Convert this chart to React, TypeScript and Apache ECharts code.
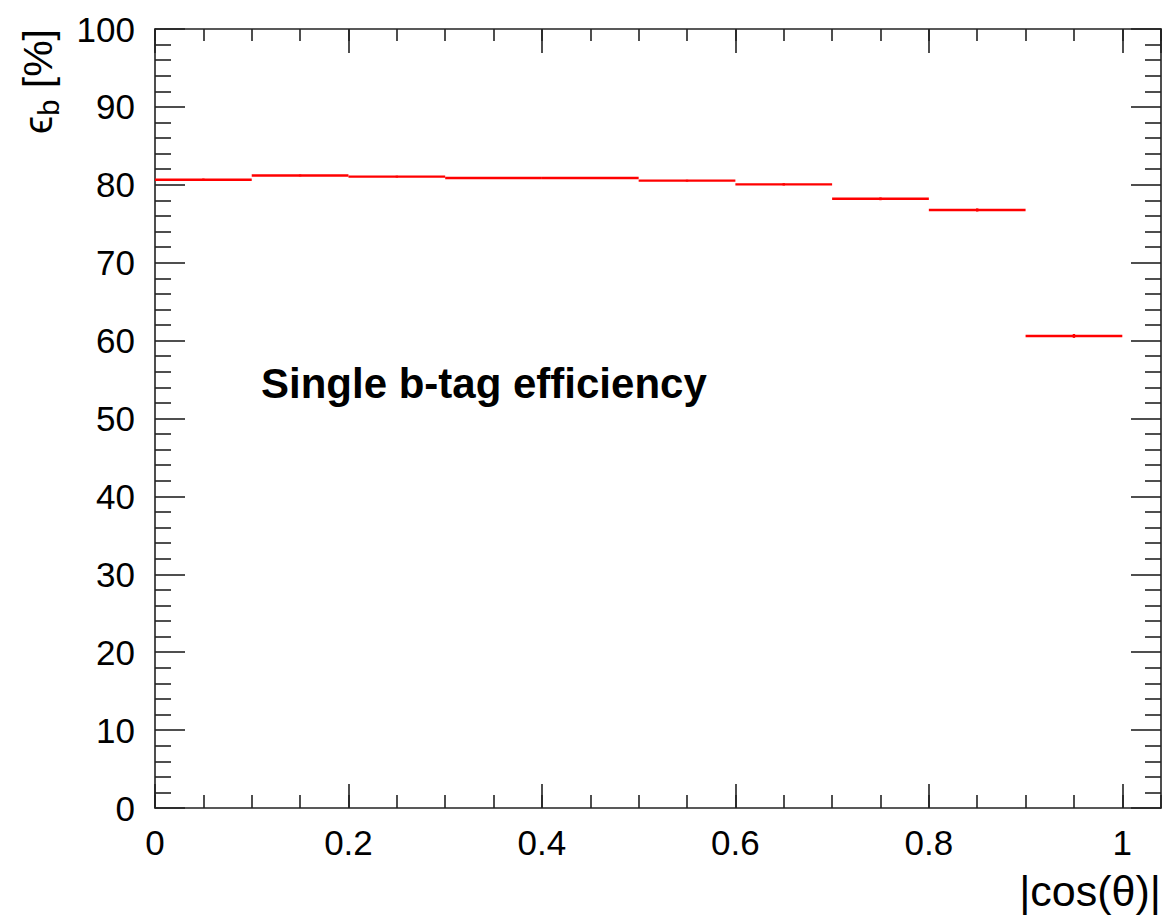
import React, { useEffect, useRef } from "react";
import * as echarts from "echarts";

// bin edges (|cos(theta)|) and efficiencies [%]
const binLow = [0.0, 0.1, 0.2, 0.3, 0.4, 0.5, 0.6, 0.7, 0.8, 0.9];
const binHigh = [0.1, 0.2, 0.3, 0.4, 0.5, 0.6, 0.7, 0.8, 0.9, 1.0];
const efficiency = [80.65, 81.2, 81.05, 80.87, 80.87, 80.53, 80.06, 78.2, 76.77, 60.6];
const errors = [0.15, 0.12, 0.12, 0.12, 0.12, 0.12, 0.15, 0.18, 0.2, 0.25];

const xTickLabels = ["0", "0.2", "0.4", "0.6", "0.8", "1"];
const yTickLabels = ["0", "10", "20", "30", "40", "50", "60", "70", "80", "90", "100"];

const FONT = "Liberation Sans, Arial, Helvetica, sans-serif";
const AXIS_COLOR = "#222";

export default function App() {
  const ref = useRef<HTMLDivElement>(null);

  useEffect(() => {
    if (!ref.current) return;
    const chart = echarts.init(ref.current, null, { renderer: "svg" });

    const data = binLow.map((lo, i) => [lo, binHigh[i], efficiency[i], errors[i]]);

    const lineStyle = { color: AXIS_COLOR, width: 1.6 };
    const xFmt = (v: number) => {
      const k = Math.round(v * 5);
      if (Math.abs(v * 5 - k) > 1e-6 || k < 0 || k >= xTickLabels.length) return "";
      return xTickLabels[k];
    };
    const yFmt = (v: number) => {
      const k = Math.round(v / 10);
      if (Math.abs(v / 10 - k) > 1e-6 || k < 0 || k >= yTickLabels.length) return "";
      return yTickLabels[k];
    };

    const option: any = {
      animation: false,
      backgroundColor: "#fff",
      grid: { left: 155, top: 29, width: 1006, height: 779, containLabel: false },
      xAxis: [
        {
          type: "value", min: 0, max: 1.04, interval: 0.2, position: "bottom",
          axisLine: { show: true, onZero: false, lineStyle },
          axisTick: { show: true, inside: true, length: 24, lineStyle },
          axisLabel: { show: true, formatter: xFmt, fontSize: 35, color: "#000", fontFamily: FONT, margin: 17, showMaxLabel: false },
          splitLine: { show: false },
        },
        {
          type: "value", min: 0, max: 1.04, interval: 0.05, position: "bottom",
          axisLine: { show: false, onZero: false },
          axisTick: { show: true, inside: true, length: 13, lineStyle },
          axisLabel: { show: false },
          splitLine: { show: false },
        },
        {
          type: "value", min: 0, max: 1.04, interval: 0.2, position: "top",
          axisLine: { show: true, onZero: false, lineStyle },
          axisTick: { show: true, inside: true, length: 24, lineStyle },
          axisLabel: { show: false },
          splitLine: { show: false },
        },
        {
          type: "value", min: 0, max: 1.04, interval: 0.05, position: "top",
          axisLine: { show: false, onZero: false },
          axisTick: { show: true, inside: true, length: 12, lineStyle },
          axisLabel: { show: false },
          splitLine: { show: false },
        },
      ],
      yAxis: [
        {
          type: "value", min: 0, max: 100, interval: 10, position: "left",
          axisLine: { show: true, onZero: false, lineStyle },
          axisTick: { show: true, inside: true, length: 30, lineStyle },
          minorTick: { show: true, splitNumber: 5, length: 16, lineStyle },
          axisLabel: { show: true, formatter: yFmt, fontSize: 35, color: "#000", fontFamily: FONT, margin: 20 },
          splitLine: { show: false },
          minorSplitLine: { show: false },
        },
        {
          type: "value", min: 0, max: 100, interval: 10, position: "right",
          axisLine: { show: true, onZero: false, lineStyle },
          axisTick: { show: true, inside: true, length: 30, lineStyle },
          minorTick: { show: true, splitNumber: 5, length: 16, lineStyle },
          axisLabel: { show: false },
          splitLine: { show: false },
          minorSplitLine: { show: false },
        },
      ],
      series: [
        {
          type: "custom",
          xAxisIndex: 0,
          yAxisIndex: 0,
          data,
          encode: { x: [0, 1], y: 2 },
          renderItem: (params: any, api: any) => {
            const lo = api.value(0);
            const hi = api.value(1);
            const y = api.value(2);
            const e = api.value(3);
            const p0 = api.coord([lo, y]);
            const p1 = api.coord([hi, y]);
            const mid = (lo + hi) / 2;
            const e0 = api.coord([mid, y - e]);
            const e1 = api.coord([mid, y + e]);
            const st = { stroke: "#ff0000", lineWidth: 2.4 };
            return {
              type: "group",
              children: [
                { type: "line", shape: { x1: p0[0], y1: p0[1], x2: p1[0], y2: p1[1] }, style: st },
                { type: "line", shape: { x1: e0[0], y1: e0[1], x2: e1[0], y2: e1[1] }, style: st },
              ],
            };
          },
        },
      ],
      graphic: [
        {
          type: "text",
          left: 261,
          top: 362,
          style: { text: "Single b-tag efficiency", font: `bold 42px ${FONT}`, fill: "#000" },
        },
        {
          type: "text",
          x: 38,
          y: 29,
          rotation: Math.PI / 2,
          style: {
            text: "{e|ϵ}{s|b}{e| [%]}",
            align: "right",
            verticalAlign: "middle",
            fill: "#000",
            rich: {
              e: { fontSize: 41, fontFamily: FONT, fill: "#000", lineHeight: 50, verticalAlign: "middle" },
              s: { fontSize: 29, fontFamily: FONT, fill: "#000", lineHeight: 50, verticalAlign: "bottom", padding: [18, 0, 0, 0] },
            },
          },
        },
        {
          type: "text",
          right: 3,
          top: 869,
          style: { text: "|cos(θ)|", font: `43px ${FONT}`, fill: "#000" },
        },
      ],
    };

    chart.setOption(option);
    return () => chart.dispose();
  }, []);

  return (
    <div
      ref={ref}
      style={{ position: "fixed", left: 0, top: 0, width: 1164, height: 916, background: "#fff" }}
    />
  );
}
